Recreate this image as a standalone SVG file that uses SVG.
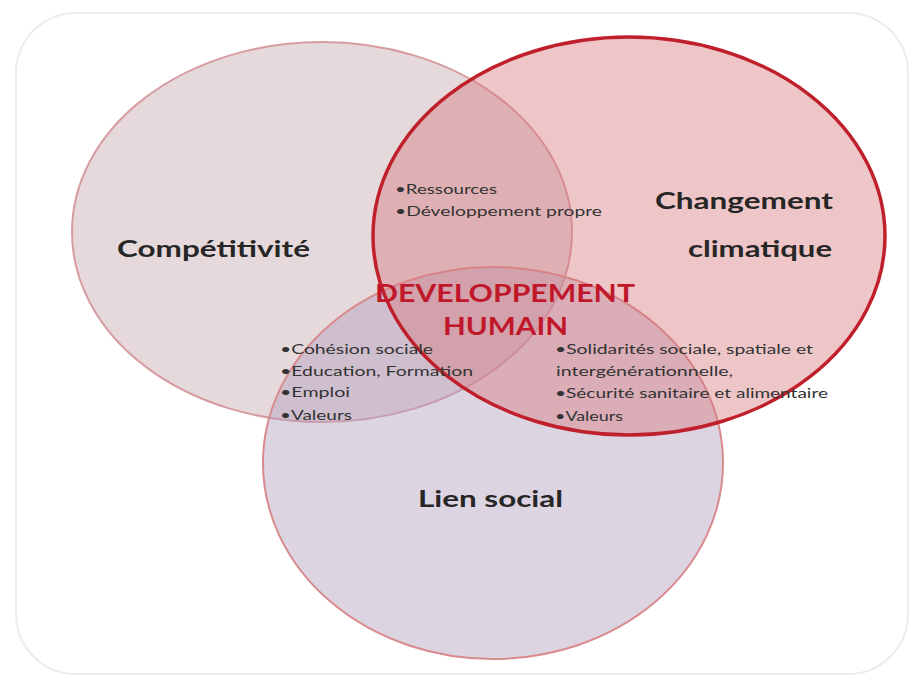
<svg xmlns="http://www.w3.org/2000/svg" width="923" height="687" viewBox="0 0 923 687">
<style>
.t{font-family:Lato,"Open Sans","Liberation Sans",sans-serif;font-weight:700;fill:#262626}
.h{font-family:Lato,"Open Sans","Liberation Sans",sans-serif;font-weight:700;fill:#c0182a}
.b{font-family:Lato,"Open Sans","Liberation Sans",sans-serif;font-weight:400;fill:#333;font-size:13px}
</style>
<rect x="0" y="0" width="923" height="687" fill="#ffffff"/>
<rect x="16" y="13" width="892" height="661" rx="60" fill="none" stroke="#ececec" stroke-width="2"/>
<g id="competitivite">
<ellipse cx="322" cy="232" rx="250" ry="190" fill="rgb(200,170,175)" fill-opacity="0.45" stroke="#d79ca0" stroke-width="2"/>
</g>
<g id="lien-social">
<ellipse cx="493" cy="463" rx="230" ry="196" fill="rgb(180,160,190)" fill-opacity="0.45" stroke="#d88a8e" stroke-width="2"/>
</g>
<g id="changement">
<ellipse cx="629" cy="236" rx="256" ry="199" fill="rgb(215,120,125)" fill-opacity="0.42" stroke="#c0202c" stroke-width="3.5"/>
</g>
<g id="labels">
<text class="t" x="117" y="257" font-size="23" textLength="193" lengthAdjust="spacingAndGlyphs">Compétitivité</text>
<text class="t" x="655" y="209" font-size="23" textLength="178" lengthAdjust="spacingAndGlyphs">Changement</text>
<text class="t" x="688" y="257" font-size="23" textLength="144" lengthAdjust="spacingAndGlyphs">climatique</text>
<text class="t" x="418" y="507" font-size="23" textLength="145" lengthAdjust="spacingAndGlyphs">Lien social</text>
<text class="h" x="375" y="302" font-size="25" textLength="260" lengthAdjust="spacingAndGlyphs">DEVELOPPEMENT</text>
<text class="h" x="443" y="335" font-size="25" textLength="125" lengthAdjust="spacingAndGlyphs">HUMAIN</text>
</g>
<g id="bullets-top">
<text class="b" x="395" y="194" textLength="102" lengthAdjust="spacingAndGlyphs">•Ressources</text>
<text class="b" x="395" y="216" textLength="207" lengthAdjust="spacingAndGlyphs">•Développement propre</text>
</g>
<g id="bullets-left">
<text class="b" x="280" y="354" textLength="153" lengthAdjust="spacingAndGlyphs">•Cohésion sociale</text>
<text class="b" x="280" y="376" textLength="193" lengthAdjust="spacingAndGlyphs">•Education, Formation</text>
<text class="b" x="280" y="397" textLength="70" lengthAdjust="spacingAndGlyphs">•Emploi</text>
<text class="b" x="280" y="420" textLength="72" lengthAdjust="spacingAndGlyphs">•Valeurs</text>
</g>
<g id="bullets-right">
<text class="b" x="555" y="354" textLength="258" lengthAdjust="spacingAndGlyphs">•Solidarités sociale, spatiale et</text>
<text class="b" x="556" y="376" textLength="177" lengthAdjust="spacingAndGlyphs">intergénérationnelle,</text>
<text class="b" x="555" y="398" textLength="273" lengthAdjust="spacingAndGlyphs">•Sécurité sanitaire et alimentaire</text>
<text class="b" x="555" y="421" textLength="68" lengthAdjust="spacingAndGlyphs">•Valeurs</text>
</g>
<g id="connectors"></g>
</svg>
